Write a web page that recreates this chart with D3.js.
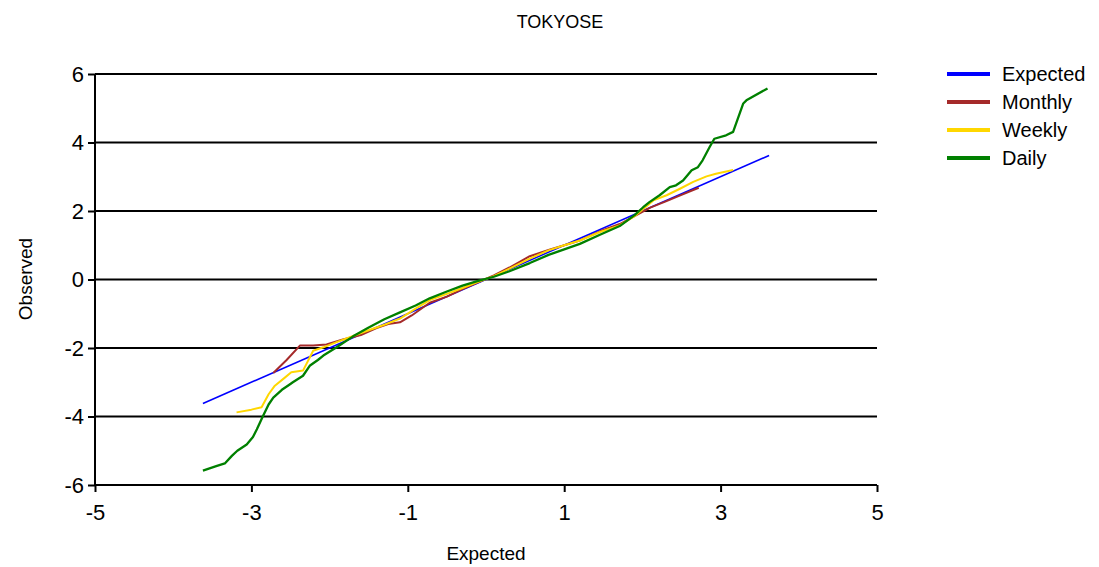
<!DOCTYPE html>
<html>
<head>
<meta charset="utf-8">
<script src="https://cdn.jsdelivr.net/npm/d3@7"></script>
<style>
  body { margin: 0; background: #fff; }
  text { font-family: "Liberation Sans", Arial, sans-serif; fill: #000; }
</style>
</head>
<body>
<script>
var width = 1099,
    height = 567;

// tick values
var xTicks = [-5, -3, -1, 1, 3, 5];
var yTicks = [-6, -4, -2, 0, 2, 4, 6];

// series: [expected, observed]
var expected = [[-3.62, -3.62], [3.62, 3.62]];

var monthly = [
  [-2.72, -2.73], [-2.55, -2.35], [-2.38, -1.93], [-2.21, -1.93], [-2.04, -1.90],
  [-1.83, -1.75], [-1.6, -1.62], [-1.4, -1.42], [-1.25, -1.30], [-1.1, -1.25],
  [-0.95, -1.05], [-0.72, -0.68], [-0.5, -0.50], [-0.3, -0.28], [-0.1, -0.08],
  [0.1, 0.12], [0.3, 0.35], [0.56, 0.68], [0.8, 0.86], [1.0, 1.0],
  [1.2, 1.14], [1.45, 1.40], [1.71, 1.62], [1.9, 1.85], [2.1, 2.1],
  [2.3, 2.28], [2.5, 2.47], [2.72, 2.68]
];

var weekly = [
  [-3.19, -3.88], [-3.0, -3.80], [-2.87, -3.73], [-2.78, -3.35], [-2.70, -3.10],
  [-2.58, -2.88], [-2.49, -2.71], [-2.34, -2.66], [-2.21, -2.08], [-2.08, -1.98],
  [-1.91, -1.83], [-1.7, -1.65], [-1.5, -1.48], [-1.3, -1.32], [-1.1, -1.14],
  [-0.9, -0.85], [-0.72, -0.60], [-0.5, -0.42], [-0.3, -0.25], [-0.1, -0.07],
  [0.1, 0.1], [0.3, 0.32], [0.56, 0.61], [0.8, 0.85], [1.0, 1.0],
  [1.2, 1.14], [1.45, 1.38], [1.71, 1.58], [1.9, 1.85], [2.14, 2.31],
  [2.31, 2.46], [2.48, 2.65], [2.65, 2.85], [2.82, 3.01], [2.94, 3.09],
  [3.16, 3.20]
];

var daily = [
  [-3.62, -5.58], [-3.45, -5.45], [-3.34, -5.37], [-3.25, -5.15], [-3.18, -5.0],
  [-3.06, -4.82], [-2.98, -4.6], [-2.93, -4.37], [-2.85, -3.98], [-2.78, -3.65],
  [-2.72, -3.45], [-2.61, -3.22], [-2.52, -3.08], [-2.47, -3.0], [-2.34, -2.81],
  [-2.25, -2.51], [-2.15, -2.35], [-2.08, -2.22], [-1.91, -1.98], [-1.7, -1.66],
  [-1.5, -1.40], [-1.3, -1.16], [-1.1, -0.96], [-0.9, -0.76], [-0.72, -0.55],
  [-0.5, -0.35], [-0.3, -0.18], [-0.1, -0.04], [0.1, 0.08], [0.3, 0.24],
  [0.56, 0.48], [0.8, 0.72], [1.0, 0.88], [1.2, 1.04], [1.45, 1.3],
  [1.71, 1.56], [1.9, 1.88], [2.01, 2.11], [2.09, 2.26], [2.22, 2.46],
  [2.35, 2.70], [2.43, 2.75], [2.52, 2.89], [2.63, 3.19], [2.71, 3.28],
  [2.77, 3.48], [2.86, 3.87], [2.92, 4.11], [3.07, 4.21], [3.16, 4.31],
  [3.29, 5.14], [3.33, 5.23], [3.60, 5.58]
];

var series = [
  {name: "Expected", color: "#0000ff", width: 1.6, values: expected},
  {name: "Monthly", color: "#a52a2a", width: 2, values: monthly},
  {name: "Weekly", color: "#ffd700", width: 2, values: weekly},
  {name: "Daily", color: "#008000", width: 2.3, values: daily}
];

var svg = d3.select("body").append("svg")
    .attr("width", width)
    .attr("height", height);

var x = d3.scaleLinear().domain([-5, 5]).range([95, 877]);
var y = d3.scaleLinear().domain([-6, 6]).range([485, 74]);

// horizontal grid lines
svg.append("g")
    .selectAll("line")
    .data(yTicks)
    .enter().append("line")
    .attr("x1", x(-5))
    .attr("x2", x(5))
    .attr("y1", function(d) { return y(d); })
    .attr("y2", function(d) { return y(d); })
    .attr("stroke", "#000")
    .attr("stroke-width", 2);

// axes (plain hyphen for negatives, like the original)
var yAxis = d3.axisLeft(y).tickValues(yTicks).tickSize(7).tickPadding(4).tickFormat(String);
var xAxis = d3.axisBottom(x).tickValues(xTicks).tickSize(7).tickPadding(12).tickFormat(String);

var gy = svg.append("g")
    .attr("transform", "translate(" + x(-5) + ",0)")
    .call(yAxis);
var gx = svg.append("g")
    .attr("transform", "translate(0," + y(-6) + ")")
    .call(xAxis);

[gx, gy].forEach(function(g) {
    g.select(".domain").remove();
    g.selectAll(".tick line").attr("stroke", "#000").attr("stroke-width", 2);
    g.selectAll(".tick text")
        .attr("font-family", "Liberation Sans, Arial, sans-serif")
        .attr("font-size", 22)
        .attr("fill", "#000");
});
gx.append("line")
    .attr("x1", x(-5)).attr("x2", x(5))
    .attr("stroke", "#000").attr("stroke-width", 2);
gy.append("line")
    .attr("y1", y(-6)).attr("y2", y(6))
    .attr("stroke", "#000").attr("stroke-width", 2);

// series lines
var line = d3.line()
    .x(function(d) { return x(d[0]); })
    .y(function(d) { return y(d[1]); });

svg.append("g")
    .selectAll("path")
    .data(series)
    .enter().append("path")
    .attr("d", function(d) { return line(d.values); })
    .attr("fill", "none")
    .attr("stroke", function(d) { return d.color; })
    .attr("stroke-width", function(d) { return d.width; })
    .attr("stroke-linejoin", "round");

// title and axis titles
svg.append("text")
    .attr("x", 560).attr("y", 22)
    .attr("text-anchor", "middle")
    .attr("dominant-baseline", "central")
    .attr("font-size", 18)
    .text("TOKYOSE");

svg.append("text")
    .attr("x", 486).attr("y", 553)
    .attr("text-anchor", "middle")
    .attr("dominant-baseline", "central")
    .attr("font-size", 19)
    .text("Expected");

svg.append("text")
    .attr("transform", "translate(25,279) rotate(-90)")
    .attr("text-anchor", "middle")
    .attr("dominant-baseline", "central")
    .attr("font-size", 19)
    .text("Observed");

// legend
var legend = svg.append("g")
    .selectAll("g")
    .data(series)
    .enter().append("g")
    .attr("transform", function(d, i) { return "translate(947," + (74 + i * 28) + ")"; });

legend.append("line")
    .attr("x1", 0).attr("x2", 43)
    .attr("stroke", function(d) { return d.color; })
    .attr("stroke-width", 4);

legend.append("text")
    .attr("x", 55)
    .attr("dominant-baseline", "central")
    .attr("font-size", 20)
    .text(function(d) { return d.name; });
</script>
</body>
</html>
